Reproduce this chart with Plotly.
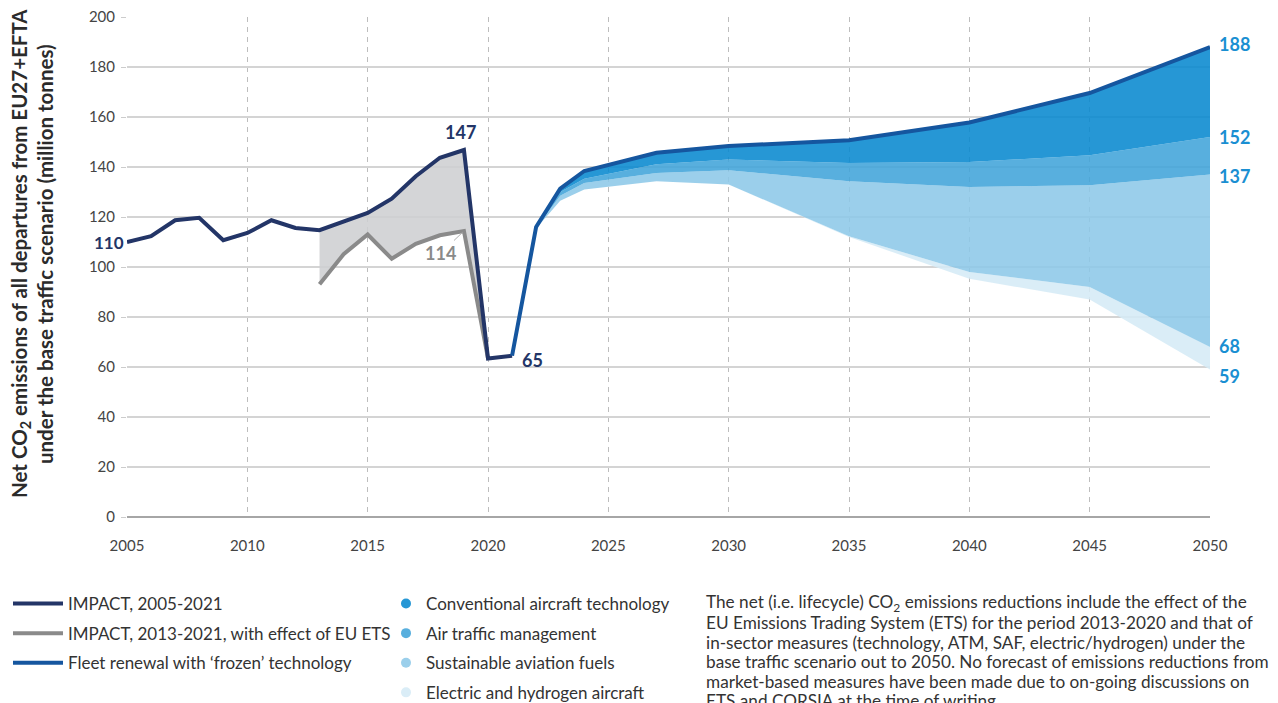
import plotly.graph_objects as go

# ---------------- data ----------------
years_hist = list(range(2005, 2022))
impact = [110, 112.3, 118.7, 119.7, 110.7, 113.6, 118.7, 115.6, 114.7, 118.0,
          121.6, 127.3, 136.3, 143.7, 146.8, 63.4, 64.5]

years_ets = list(range(2013, 2021))
impact_ets = [93.1, 105.1, 113.0, 103.3, 109.3, 112.7, 114.4, 63.4]
impact_same_period = impact[8:16]

years_fc = [2021, 2022, 2023, 2024, 2027, 2030, 2035, 2040, 2045, 2050]
frozen = [64.5, 116.0, 131.3, 138.4, 145.7, 148.4, 150.7, 157.8, 169.6, 188]
after_tech = [64.5, 115.8, 130.0, 135.3, 141.1, 143.0, 141.6, 142.0, 144.7, 152]
after_atm = [64.5, 115.6, 128.5, 133.6, 137.6, 138.7, 134.3, 132.0, 132.7, 137]
after_saf = [64.5, 115.4, 126.5, 131.0, 134.3, 133.0, 112.3, 98.0, 92.0, 68]
after_eh = [64.5, 115.4, 126.5, 131.0, 134.3, 133.0, 112.0, 95.3, 87.0, 59]

x_ticks = list(range(2005, 2051, 5))
y_ticks = list(range(0, 201, 20))

title_lines = [
    "Net CO<sub>2</sub> emissions of all departures from EU27+EFTA",
    "under the base traffic scenario (million tonnes)",
]
note_lines = [
    "The net (i.e. lifecycle) CO<sub>2</sub> emissions reductions include the effect of the",
    "EU Emissions Trading System (ETS) for the period 2013-2020 and that of",
    "in-sector measures (technology, ATM, SAF, electric/hydrogen) under the",
    "base traffic scenario out to 2050. No forecast of emissions reductions from",
    "market-based measures have been made due to on-going discussions on",
    "ETS and CORSIA at the time of writing.",
]

# ---------------- styles ----------------
NAVY = "#233567"
GREY = "#8a8a8a"
FLEET = "#15569f"
C_TECH = "rgba(8,137,207,0.88)"
C_ATM = "rgba(65,164,218,0.88)"
C_SAF = "rgba(141,200,232,0.88)"
C_EH = "rgba(213,235,246,0.88)"
LBL_BLUE = "#1a8fd2"
FONT = "Lato"

# geometry: the page body has an 8px margin, so the figure is 8px smaller
OFF = 8
W, H = 1278 - OFF, 703 - OFF
ML, MT = 127 - OFF, 17 - OFF
MR = W - (1210 - OFF)
MB = H - (517 - OFF)
PW, PH = W - ML - MR, H - MT - MB


def px_x(p):  # page pixel -> paper x
    return (p - OFF - ML) / PW


def px_y(p):  # page pixel -> paper y
    return (H - MB - (p - OFF)) / PH


fig = go.Figure()

# grey band (ETS effect)
fig.add_trace(go.Scatter(x=years_ets, y=impact_same_period, mode="lines",
                         line=dict(width=0), showlegend=False, hoverinfo="skip"))
fig.add_trace(go.Scatter(x=years_ets, y=impact_ets, mode="lines", fill="tonexty",
                         fillcolor="rgba(206,207,210,0.88)", line=dict(width=0),
                         showlegend=False, hoverinfo="skip"))

# forecast bands
fig.add_trace(go.Scatter(x=years_fc, y=after_eh, mode="lines", line=dict(width=0),
                         showlegend=False, hoverinfo="skip"))
fig.add_trace(go.Scatter(x=years_fc, y=after_saf, mode="lines", fill="tonexty",
                         fillcolor=C_EH, line=dict(width=0), showlegend=False))
fig.add_trace(go.Scatter(x=years_fc, y=after_atm, mode="lines", fill="tonexty",
                         fillcolor=C_SAF, line=dict(width=0), showlegend=False))
fig.add_trace(go.Scatter(x=years_fc, y=after_tech, mode="lines", fill="tonexty",
                         fillcolor=C_ATM, line=dict(width=0), showlegend=False))
fig.add_trace(go.Scatter(x=years_fc, y=frozen, mode="lines", fill="tonexty",
                         fillcolor=C_TECH, line=dict(width=0), showlegend=False))

# lines
fig.add_trace(go.Scatter(x=years_ets, y=impact_ets, mode="lines",
                         line=dict(color=GREY, width=4),
                         name="IMPACT, 2013-2021, with effect of EU ETS",
                         legend="legend", legendrank=2, legendgroup="g2"))
fig.add_trace(go.Scatter(x=years_hist, y=impact, mode="lines",
                         line=dict(color=NAVY, width=4),
                         name="IMPACT, 2005-2021", legend="legend", legendrank=1,
                         legendgroup="g1"))
fig.add_trace(go.Scatter(x=years_fc, y=frozen, mode="lines",
                         line=dict(color=FLEET, width=4),
                         name="Fleet renewal with ‘frozen’ technology",
                         legend="legend", legendrank=3, legendgroup="g3"))

# legend-only dots for the bands
for nm, col, rk in [("Conventional aircraft technology", "#2697d5", 1),
                    ("Air traffic management", "#58afde", 2),
                    ("Sustainable aviation fuels", "#9bcfeb", 3),
                    ("Electric and hydrogen aircraft", "#daedf7", 4)]:
    fig.add_trace(go.Scatter(x=[None], y=[None], mode="markers",
                             marker=dict(color=col, size=10, symbol="circle"),
                             name=nm, legend="legend2", legendrank=rk,
                             legendgroup=f"d{rk}"))

# ---------------- annotations ----------------
lab = dict(family=FONT, size=18, color=NAVY, weight="bold")
fig.add_annotation(x=2005, y=impact[0], text="110", showarrow=False,
                   xanchor="right", xshift=-1, font=dict(lab, size=17))
fig.add_annotation(x=2019, y=impact[14], text="147", showarrow=False,
                   yanchor="bottom", yshift=5, xshift=-3, font=lab)
fig.add_annotation(x=2021, y=impact[16], text="65", showarrow=False,
                   xanchor="left", xshift=8, yshift=-4, font=lab)
fig.add_annotation(x=2019, y=impact_ets[6], text="114", showarrow=True,
                   arrowhead=0, arrowwidth=1, arrowcolor="#b0b0b0",
                   ax=-23, ay=22, standoff=2,
                   font=dict(family=FONT, size=18, color=GREY, weight="bold"))

rlab = dict(family=FONT, size=18, color=LBL_BLUE, weight="bold")
for val, shift in [(frozen[-1], 3), (after_tech[-1], 0), (after_atm[-1], -1),
                   (after_saf[-1], 1), (after_eh[-1], -6)]:
    fig.add_annotation(x=2050, y=val, text=f"{val:g}", showarrow=False,
                       xanchor="left", xshift=7, yshift=shift, font=rlab)

# axis title (two rotated lines)
for line, xc in zip(title_lines, [20, 45]):
    fig.add_annotation(xref="paper", yref="paper", x=px_x(xc), y=px_y(254),
                       text=line, textangle=-90, showarrow=False,
                       xanchor="center", yanchor="middle",
                       font=dict(family=FONT, size=20.5, color="#2b2b2b", weight="bold"))

# note text, one annotation per line
for i, line in enumerate(note_lines):
    fig.add_annotation(xref="paper", yref="paper", x=px_x(704), y=px_y(603 + 19.5 * i),
                       xanchor="left", yanchor="middle", align="left", showarrow=False,
                       text=line, font=dict(family=FONT, size=17.2, color="#333333"))

# ---------------- layout ----------------
fig.update_layout(
    width=W, height=H,
    margin=dict(l=ML, r=MR, t=MT, b=MB, autoexpand=False),
    paper_bgcolor="white", plot_bgcolor="white",
    font=dict(family=FONT, size=15, color="#444444"),
    xaxis=dict(range=[2005, 2050], tickvals=x_ticks, showgrid=False,
               zeroline=False, showline=False, ticks="", ticklabelstandoff=18,
               automargin=False, ticklabeloverflow="allow",
               tickfont=dict(family=FONT, size=15, color="#444444"),
               minor=dict(tickvals=list(range(2010, 2050, 5)), showgrid=True,
                          gridcolor="#bdbdbd", gridwidth=1.2, griddash="5px,5px",
                          ticks="")),
    yaxis=dict(range=[0, 200], tickvals=y_ticks, showgrid=True,
               gridcolor="#d4d4d4", gridwidth=1.5, automargin=False,
               ticklabeloverflow="allow",
               zeroline=True, zerolinecolor="#a6a6a6", zerolinewidth=2,
               ticks="outside", ticklen=5, tickcolor="#cccccc",
               ticklabelstandoff=3,
               tickfont=dict(family=FONT, size=15, color="#444444")),
    legend=dict(x=px_x(8), y=px_y(586), xanchor="left", yanchor="top",
                bgcolor="rgba(0,0,0,0)", font=dict(family=FONT, size=17, color="#333333"),
                traceorder="grouped", tracegroupgap=4.5, itemwidth=50),
    legend2=dict(x=px_x(386), y=px_y(586), xanchor="left", yanchor="top",
                 bgcolor="rgba(0,0,0,0)", font=dict(family=FONT, size=17, color="#333333"),
                 traceorder="grouped", tracegroupgap=4.5),
    showlegend=True,
)

fig.write_html("out.html")
